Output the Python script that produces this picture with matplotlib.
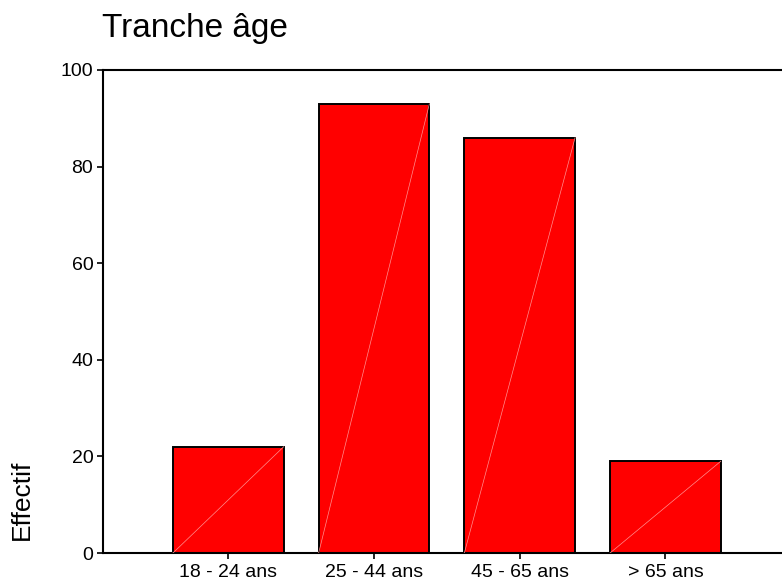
import matplotlib
matplotlib.use("Agg")
import matplotlib.pyplot as plt

plt.rcParams['font.family'] = ['Liberation Sans', 'DejaVu Sans']

categories = ["18 - 24 ans", "25 - 44 ans", "45 - 65 ans", "> 65 ans"]
counts = [22, 93, 86, 19]
title = "Tranche âge"
ylabel = "Effectif"

W, H = 782, 582
fig = plt.figure(figsize=(W / 100, H / 100), dpi=100)
ax = fig.add_axes([103 / W, 1 - 553 / H, (W - 103) / W, (553 - 70) / H])

width = 0.76
xs = list(range(len(categories)))
ax.bar(xs, counts, width=width, color="#ff0000", edgecolor="black", linewidth=1.4, zorder=2)
# faint diagonal drawn inside each bar
for x, c in zip(xs, counts):
    ax.plot([x - width / 2, x + width / 2], [0, c], color="#ff9090", linewidth=0.5, zorder=3)

ax.set_xlim(-0.86, 3.80)
ax.set_ylim(0, 100)
ax.set_yticks([0, 20, 40, 60, 80, 100])
ax.set_xticks(xs)
ax.set_xticklabels(categories)
ax.tick_params(axis="both", direction="out", length=4, width=1.2, labelsize=14)
ax.tick_params(axis="x", pad=4)
ax.tick_params(axis="y", pad=3)

for s in ["left", "top", "bottom"]:
    ax.spines[s].set_linewidth(1.5)
ax.spines["right"].set_visible(False)

ax.set_ylabel(ylabel, fontsize=19)
ax.yaxis.set_label_coords(-0.1016, 0.111)

fig.text(102 / W, 1 - 37 / H, title, fontsize=24, ha="left", va="baseline")

fig.savefig("out.png", dpi=100)
